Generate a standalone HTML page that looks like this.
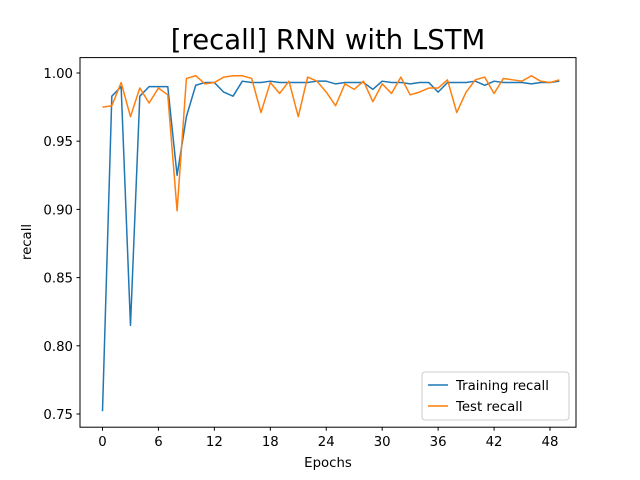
<!DOCTYPE html>
<html><head><meta charset="utf-8"><style>
body{margin:0;background:#fff}
svg{display:block;font-family:"DejaVu Sans","Liberation Sans",sans-serif}
</style></head><body>
<svg id="chart" width="640" height="480" viewBox="0 0 640 480">
<rect width="640" height="480" fill="#fff"/>
<text x="328" y="49" font-size="27.5" text-anchor="middle">[recall] RNN with LSTM</text>
<g id="grid"></g>
<g id="lines"></g>
<rect x="80" y="57.6" width="496" height="369.6" fill="none" stroke="#000" stroke-width="1"/>
<text x="328" y="467" font-size="13.3" text-anchor="middle">Epochs</text>
<text x="31" y="242" font-size="13.3" text-anchor="middle" transform="rotate(-90 31 242)">recall</text>
<g>
<rect x="422" y="372" width="147" height="48" rx="3" fill="#fff" stroke="#ccc"/>
<line x1="428" y1="385" x2="448" y2="385" stroke="#1f77b4" stroke-width="1.5"/>
<text x="456" y="390" font-size="13.3">Training recall</text>
<line x1="428" y1="406" x2="448" y2="406" stroke="#ff7f0e" stroke-width="1.5"/>
<text x="456" y="411" font-size="13.3">Test recall</text>
</g>
</svg>
<script>
const xTicks=[0,6,12,18,24,30,36,42,48];
const yTicks=[0.75,0.80,0.85,0.90,0.95,1.00];
const yTickLabels=["0.75","0.80","0.85","0.90","0.95","1.00"];
const trainRecall=[0.752,0.983,0.990,0.815,0.983,0.990,0.990,0.990,0.925,0.968,0.991,0.993,0.993,0.986,0.983,0.994,0.993,0.993,0.994,0.993,0.993,0.993,0.993,0.994,0.994,0.992,0.993,0.993,0.993,0.988,0.994,0.993,0.993,0.992,0.993,0.993,0.986,0.993,0.993,0.993,0.994,0.991,0.994,0.993,0.993,0.993,0.992,0.993,0.993,0.994];
const testRecall=[0.975,0.976,0.993,0.968,0.989,0.978,0.989,0.984,0.899,0.996,0.998,0.992,0.993,0.997,0.998,0.998,0.996,0.971,0.993,0.985,0.994,0.968,0.997,0.994,0.986,0.976,0.992,0.988,0.994,0.979,0.992,0.985,0.997,0.984,0.986,0.989,0.989,0.995,0.971,0.986,0.995,0.997,0.985,0.996,0.995,0.994,0.998,0.994,0.993,0.995];
const NS="http://www.w3.org/2000/svg";
function xs(v){return 102.5+v*(550-102.5)/48;}
function ys(v){return 73+(1.0-v)*(414-73)/0.25;}
const g=document.getElementById('grid');
xTicks.forEach(t=>{
 const l=document.createElementNS(NS,'line');
 l.setAttribute('x1',xs(t));l.setAttribute('x2',xs(t));l.setAttribute('y1',427.2);l.setAttribute('y2',430.7);l.setAttribute('stroke','#000');
 
 
 g.appendChild(l);
 const tx=document.createElementNS(NS,'text');
 tx.setAttribute('x',xs(t));tx.setAttribute('y',446);tx.setAttribute('font-size','13.3');tx.setAttribute('text-anchor','middle');tx.textContent=t;
 
 
 g.appendChild(tx);
});
yTicks.forEach((t,i)=>{
 const l=document.createElementNS(NS,'line');
 l.setAttribute('x1',76.5);l.setAttribute('x2',80);l.setAttribute('y1',ys(t));l.setAttribute('y2',ys(t));l.setAttribute('stroke','#000');
 
 
 g.appendChild(l);
 const tx=document.createElementNS(NS,'text');
 tx.setAttribute('x',73);tx.setAttribute('y',ys(t)+5);tx.setAttribute('font-size','13.3');tx.setAttribute('text-anchor','end');tx.textContent=yTickLabels[i];
 
 
 g.appendChild(tx);
});
const lg=document.getElementById('lines');
function drawLine(data,color,name){
 const p=document.createElementNS(NS,'polyline');
 p.setAttribute('points',data.map((v,i)=>xs(i)+','+ys(v)).join(' '));
 p.setAttribute('fill','none');p.setAttribute('stroke',color);p.setAttribute('stroke-width','1.5');p.setAttribute('stroke-linejoin','round');
 
 
 lg.appendChild(p);
}
drawLine(trainRecall,'#1f77b4','training-recall-line');
drawLine(testRecall,'#ff7f0e','test-recall-line');
</script>
</body></html>
